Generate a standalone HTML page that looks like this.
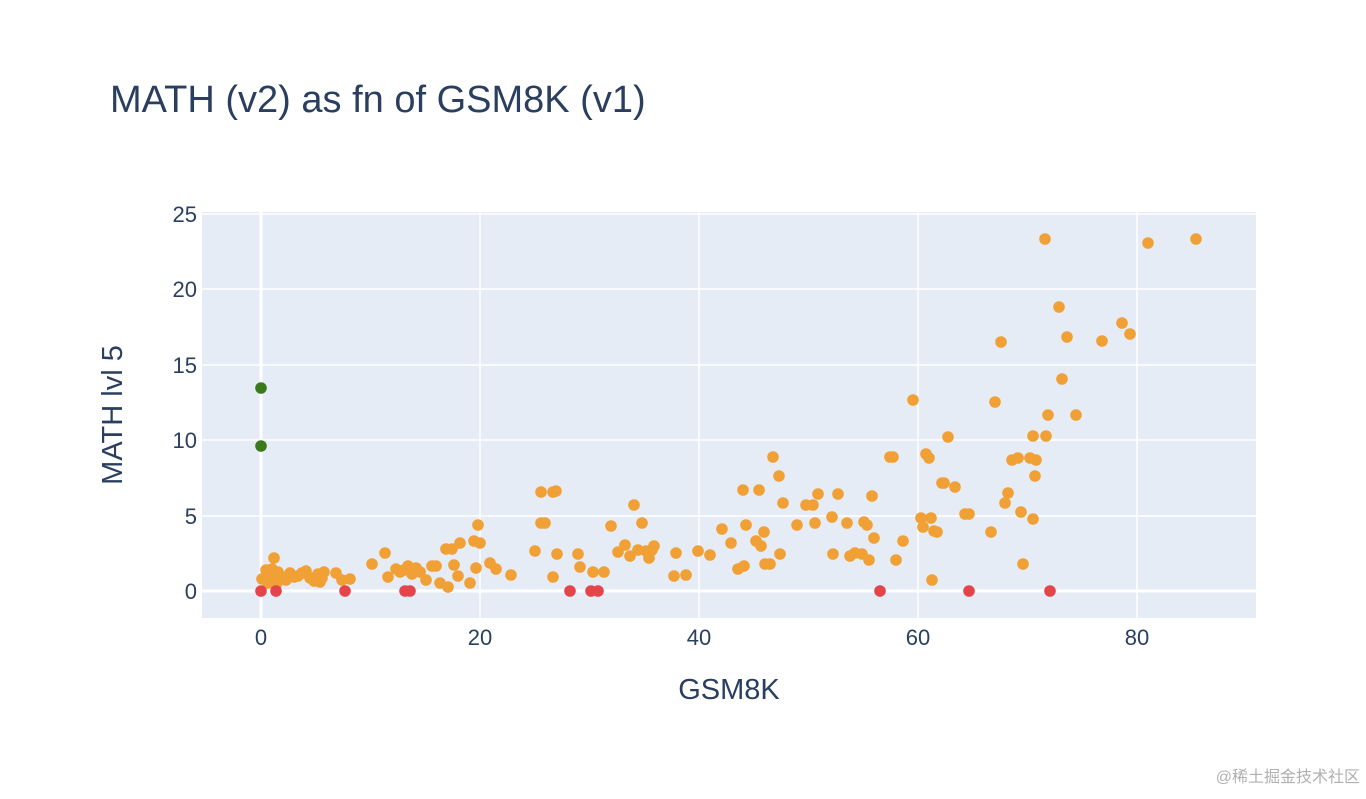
<!DOCTYPE html>
<html><head><meta charset="utf-8"><style>
body{margin:0;background:#fff;width:1366px;height:794px;overflow:hidden}
text{font-family:"Liberation Sans","Noto Sans CJK SC",sans-serif;fill:#2a3f5f}
</style></head><body>
<svg width="1366" height="794" xmlns="http://www.w3.org/2000/svg">
<rect x="202" y="212" width="1054" height="406" fill="#e5ecf6"/>
<g stroke="#fff" stroke-width="1.5">
<line x1="480" y1="212" x2="480" y2="618"/><line x1="699" y1="212" x2="699" y2="618"/>
<line x1="918" y1="212" x2="918" y2="618"/><line x1="1137" y1="212" x2="1137" y2="618"/>
<line x1="202" y1="516" x2="1256" y2="516"/><line x1="202" y1="440" x2="1256" y2="440"/>
<line x1="202" y1="365" x2="1256" y2="365"/><line x1="202" y1="289" x2="1256" y2="289"/>
<line x1="202" y1="214" x2="1256" y2="214"/>
</g>
<g stroke="#fff" stroke-width="3">
<line x1="261" y1="212" x2="261" y2="618"/><line x1="202" y1="591" x2="1256" y2="591"/>
</g>
<g fill="#f0a035" id="o"></g>
<g fill="#e5454a" id="r"></g>
<g fill="#3a7a1a" id="g"></g>
<g font-size="22" text-anchor="end">
<text x="197" y="599">0</text><text x="197" y="524">5</text><text x="197" y="448">10</text>
<text x="197" y="373">15</text><text x="197" y="297">20</text><text x="197" y="222">25</text>
</g>
<g font-size="22" text-anchor="middle">
<text x="261" y="645">0</text><text x="480" y="645">20</text><text x="699" y="645">40</text>
<text x="918" y="645">60</text><text x="1137" y="645">80</text>
</g>
<text x="729" y="699" font-size="29" text-anchor="middle">GSM8K</text>
<text transform="translate(122,415) rotate(-90)" font-size="29" text-anchor="middle">MATH lvl 5</text>
<text x="110" y="112" font-size="38">MATH (v2) as fn of GSM8K (v1)</text>
<text x="1360" y="782" font-size="16" text-anchor="end" style="fill:#b0b0b0">@稀土掘金技术社区</text>
</svg>
<script>
var O=[[262,579],[266,570],[270,576],[274,558],[272,569],[278,572],[282,577],[286,580],[290,573],[294,577],[298,576],[302,573],[306,571],[310,578],[314,581],[318,574],[322,578],[324,572],[320,582],[336,573],[342,580],[350,579],[268,583],[276,585],[280,580],[372,564],[385,553],[388,577],[396,569],[400,572],[404,570],[408,566],[412,574],[416,568],[420,572],[426,580],[432,566],[436,566],[440,583],[446,549],[452,549],[448,587],[454,565],[458,576],[460,543],[470,583],[474,541],[476,568],[478,525],[480,543],[490,563],[496,569],[511,575],[535,551],[541,523],[545,523],[541,492],[553,492],[556,491],[553,577],[557,554],[578,554],[580,567],[593,572],[604,572],[611,526],[618,552],[625,545],[630,556],[634,505],[638,550],[642,523],[646,551],[649,558],[652,550],[654,546],[676,553],[674,576],[686,575],[698,551],[710,555],[722,529],[731,543],[738,569],[744,566],[743,490],[746,525],[756,541],[759,490],[761,546],[764,532],[765,564],[770,564],[773,457],[779,476],[780,554],[783,503],[797,525],[806,505],[813,505],[815,523],[818,494],[832,517],[833,554],[838,494],[847,523],[850,556],[855,553],[862,554],[864,522],[867,525],[869,560],[872,496],[874,538],[890,457],[893,457],[896,560],[903,541],[913,400],[921,518],[923,527],[926,454],[929,458],[931,518],[932,580],[934,531],[937,532],[942,483],[944,483],[948,437],[955,487],[965,514],[969,514],[991,532],[995,402],[1001,342],[1005,503],[1008,493],[1012,460],[1018,458],[1021,512],[1023,564],[1030,458],[1033,519],[1035,476],[1036,460],[1045,239],[1046,436],[1048,415],[1033,436],[1059,307],[1062,379],[1067,337],[1076,415],[1102,341],[1122,323],[1130,334],[1148,243],[1196,239]];
var R=[[261,591],[276,591],[345,591],[405,591],[410,591],[570,591],[591,591],[598,591],[880,591],[969,591],[1050,591]];
var G=[[261,388],[261,446]];
function d(id,a){var g=document.getElementById(id),s='';a.forEach(function(p){s+='<circle cx="'+p[0]+'" cy="'+p[1]+'" r="5.8"/>'});g.innerHTML=s;}
d('o',O);d('r',R);d('g',G);
</script>
</body></html>
